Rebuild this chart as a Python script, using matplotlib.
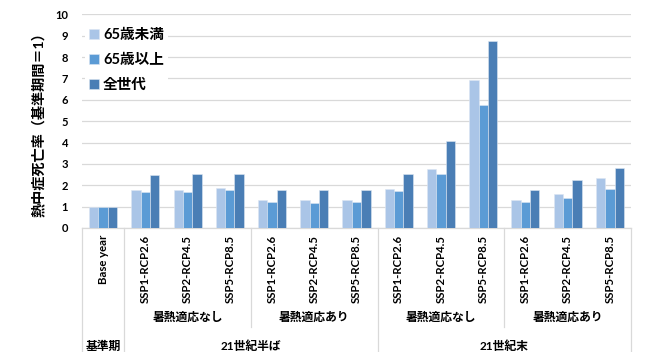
import numpy as np
import matplotlib.pyplot as plt
from matplotlib.transforms import blended_transform_factory

plt.rcParams['font.family'] = ['Lato', 'Noto Sans CJK JP', 'DejaVu Sans']
plt.rcParams['axes.unicode_minus'] = False

scenarios = ['Base year',
             'SSP1-RCP2.6', 'SSP2-RCP4.5', 'SSP5-RCP8.5',
             'SSP1-RCP2.6', 'SSP2-RCP4.5', 'SSP5-RCP8.5',
             'SSP1-RCP2.6', 'SSP2-RCP4.5', 'SSP5-RCP8.5',
             'SSP1-RCP2.6', 'SSP2-RCP4.5', 'SSP5-RCP8.5']
under65 = [1.0, 1.76, 1.78, 1.85, 1.32, 1.31, 1.32, 1.81, 2.77, 6.92, 1.31, 1.60, 2.35]
over65 = [1.0, 1.68, 1.68, 1.76, 1.21, 1.18, 1.23, 1.71, 2.55, 5.75, 1.20, 1.39, 1.82]
all_ages = [1.0, 2.46, 2.51, 2.54, 1.79, 1.79, 1.76, 2.52, 4.08, 8.77, 1.78, 2.24, 2.80]
series_names = ['65歳未満', '65歳以上', '全世代']
adapt_labels = ['暑熱適応なし', '暑熱適応あり', '暑熱適応なし', '暑熱適応あり']
period_labels = ['基準期', '21世紀半ば', '21世紀末']
ylabel = '熱中症死亡率（基準期間＝1）'

colors = ['#AAC5E7', '#5B9BD5', '#4A7EB5']


def main():
    fig = plt.figure(figsize=(6.5, 3.52), dpi=100)
    W, H = 650, 352
    left, right, top, bottom = 82, 631, 14.3, 228
    ax = fig.add_axes([left / W, 1 - bottom / H, (right - left) / W, (bottom - top) / H])

    x = np.arange(len(scenarios))
    bw = 0.222
    for i, (vals, name) in enumerate(zip([under65, over65, all_ages], series_names)):
        ax.bar(x + (i - 1) * bw, vals, width=bw, color=colors[i], label=name,
               edgecolor='#dce6f2', linewidth=0.4, zorder=3)

    ax.set_xlim(-0.5, len(scenarios) - 0.5)
    ax.set_ylim(0, 10)
    ax.set_yticks(range(0, 11))
    ax.yaxis.grid(True, color='#d9d9d9', linewidth=0.9, zorder=0)
    ax.set_axisbelow(True)
    for s in ['left', 'right', 'top']:
        ax.spines[s].set_visible(False)
    ax.spines['bottom'].set_color('#d9d9d9')
    ax.spines['bottom'].set_linewidth(0.9)
    ax.tick_params(axis='y', length=0, pad=10, labelsize=8)
    ax.tick_params(axis='x', length=0, pad=5, labelsize=8.2)
    for lab in ax.get_yticklabels():
        lab.set_fontweight('bold')
    ax.set_xticks(x)
    ax.set_xticklabels(scenarios, rotation=90, fontweight='bold')

    ax.set_ylabel(ylabel, fontsize=10.2, fontweight='bold', labelpad=7)

    # category separators under the axis
    tr = blended_transform_factory(ax.transData, ax.transAxes)
    ah = bottom - top
    y_full = -(H - bottom) / ah
    y_part = -(327 - bottom) / ah
    for xb in [-0.5, 0.5, 6.5, 12.5]:
        ax.plot([xb, xb], [0, y_full], transform=tr, color='#d9d9d9', lw=0.9, clip_on=False)
    for xb in [3.5, 9.5]:
        ax.plot([xb, xb], [0, y_part], transform=tr, color='#d9d9d9', lw=0.9, clip_on=False)

    y_adapt = -(317 - bottom) / ah
    for k, lab in enumerate(adapt_labels):
        ax.text(2 + 3 * k, y_adapt, lab, transform=tr, ha='center', va='center',
                fontsize=8.5, fontweight='bold')
    y_period = -(346 - bottom) / ah
    for xc, lab in zip([0, 3.5, 9.5], period_labels):
        ax.text(xc, y_period, lab, transform=tr, ha='center', va='center',
                fontsize=8.5, fontweight='bold')

    leg = ax.legend(loc='upper left', bbox_to_anchor=(0.0, 0.97), frameon=True,
                    fancybox=False, framealpha=1, edgecolor='none',
                    prop={'size': 10.5, 'weight': 'bold'},
                    handlelength=0.65, handleheight=0.65, handletextpad=0.3,
                    labelspacing=0.75, borderpad=0.3, borderaxespad=0.2)
    leg.set_zorder(5)

    fig.savefig('out.png', dpi=100)


if __name__ == '__main__':
    main()
